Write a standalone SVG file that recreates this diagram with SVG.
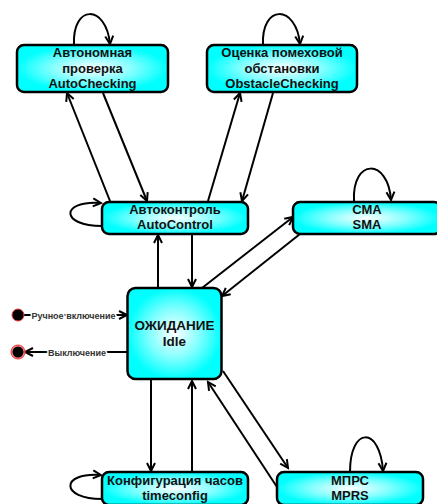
<svg xmlns="http://www.w3.org/2000/svg" width="437" height="504" viewBox="0 0 437 504">
<defs>
<radialGradient id="g" cx="50%" cy="50%" r="50%">
<stop offset="0" stop-color="#ffffff"/>
<stop offset="0.55" stop-color="#80ffff"/>
<stop offset="1" stop-color="#00ffff"/>
</radialGradient>
<marker id="a" markerWidth="10" markerHeight="10" refX="8" refY="4" orient="auto" markerUnits="userSpaceOnUse" overflow="visible">
<path d="M0,0 L8,4 L0,8" fill="none" stroke="#000" stroke-width="2" stroke-linejoin="miter"/>
</marker>
<style>
.box{fill:url(#g);stroke:#000;stroke-width:2.5}
.t{font-family:"Liberation Sans",Arial,sans-serif;font-weight:bold;font-size:13px;text-anchor:middle;fill:#111}
.c{fill:none;stroke:#000;stroke-width:2;marker-end:url(#a)}
.lab{font-family:"Liberation Sans",Arial,sans-serif;font-weight:bold;font-size:9px;text-anchor:middle;fill:#333;stroke:#fff;stroke-width:3;paint-order:stroke}
</style>
</defs>
<rect width="437" height="504" fill="#fff"/>
<g id="connectors">
<path class="c" d="M74,45 C72,4 106,4 110,44"/>
<path class="c" d="M263,45 C261,4 296,4 300,44"/>
<path class="c" d="M354,201 C352,158 388,158 391,200"/>
<path class="c" d="M350,472 C350,426 380,426 383,471"/>
<path class="c" d="M102,226 C60,226 60,200 101,203"/>
<path class="c" d="M102,499 C60,499 60,472 101,475"/>
<path class="c" d="M110,201 L67,93"/>
<path class="c" d="M103,93 L147,201"/>
<path class="c" d="M208,201 L240,93"/>
<path class="c" d="M273,93 L242,201"/>
<path class="c" d="M158,288 L158,235"/>
<path class="c" d="M192,234 L192,287"/>
<path class="c" d="M202,288 L293,217"/>
<path class="c" d="M300,234 L222,296"/>
<path class="c" d="M151,380 L151,471"/>
<path class="c" d="M192,472 L192,381"/>
<path class="c" d="M223,371 L288,468"/>
<path class="c" d="M277,487 L208,382"/>
<path class="c" d="M24,315 L127,315"/>
<path class="c" d="M127,352 L25,352"/>
<text class="lab" x="73.5" y="318.5">Ручное включение</text>
<text class="lab" x="77" y="355.5">Выключение</text>
</g>
<g id="start">
<circle cx="18" cy="315" r="6" fill="#000" stroke="#e33" stroke-width="1"/>
</g>
<g id="end">
<circle cx="18" cy="352" r="7" fill="#f88" stroke="#e33" stroke-width="1"/>
<circle cx="18" cy="352" r="5.5" fill="#000"/>
</g>
<g id="autochecking">
<rect class="box" x="17" y="45" width="151" height="47" rx="7"/>
<text class="t" x="92.5" y="57">Автономная</text>
<text class="t" x="92.5" y="72.5">проверка</text>
<text class="t" x="92.5" y="88">AutoChecking</text>
</g>
<g id="obstaclechecking">
<rect class="box" x="207" y="45" width="150" height="47" rx="7"/>
<text class="t" x="282" y="57">Оценка помеховой</text>
<text class="t" x="282" y="72.5">обстановки</text>
<text class="t" x="282" y="88">ObstacleChecking</text>
</g>
<g id="autocontrol">
<rect class="box" x="102" y="202" width="146" height="32" rx="7"/>
<text class="t" x="175" y="213.5">Автоконтроль</text>
<text class="t" x="175" y="229">AutoControl</text>
</g>
<g id="sma">
<rect class="box" x="293" y="202" width="148" height="32" rx="7"/>
<text class="t" x="367" y="213.5">СМА</text>
<text class="t" x="367" y="229">SMA</text>
</g>
<g id="idle">
<rect class="box" x="127.5" y="288" width="94" height="91" rx="8"/>
<text class="t" x="174.5" y="329.5" style="font-size:13.5px">ОЖИДАНИЕ</text>
<text class="t" x="174.5" y="345.5" style="font-size:13.5px">Idle</text>
</g>
<g id="timeconfig">
<rect class="box" x="102" y="472" width="146" height="33" rx="7"/>
<text class="t" x="175" y="484.5">Конфигурация часов</text>
<text class="t" x="175" y="500">timeconfig</text>
</g>
<g id="mprs">
<rect class="box" x="277" y="472" width="146" height="33" rx="7"/>
<text class="t" x="350" y="484.5">МПРС</text>
<text class="t" x="350" y="500">MPRS</text>
</g>
</svg>
